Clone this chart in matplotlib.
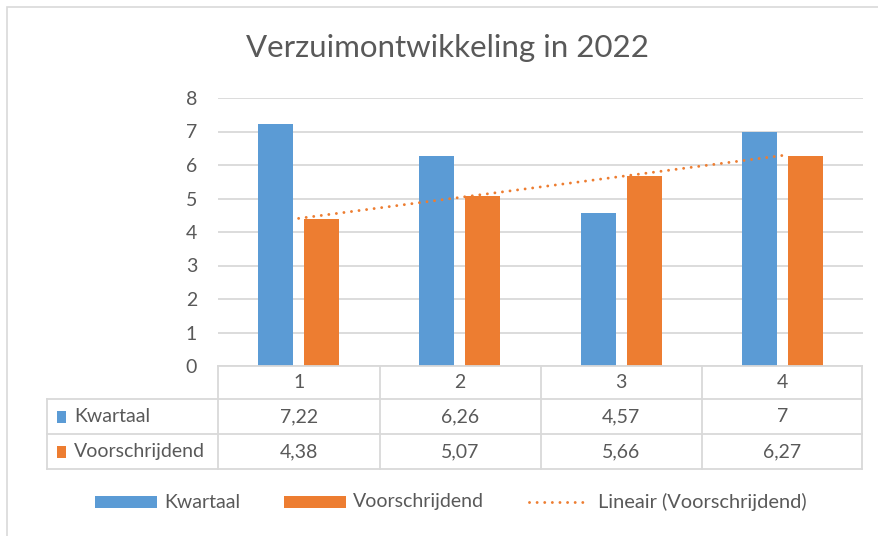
import matplotlib
matplotlib.use("Agg")
import matplotlib.pyplot as plt
import numpy as np
from matplotlib.transforms import blended_transform_factory
from matplotlib.patches import Rectangle
from matplotlib.lines import Line2D

plt.rcParams['font.family'] = ['Lato', 'DejaVu Sans']

title = "Verzuimontwikkeling in 2022"
categories = ["1", "2", "3", "4"]
kwartaal = [7.22, 6.26, 4.57, 7]
voorschrijdend = [4.38, 5.07, 5.66, 6.27]
kwartaal_labels = ["7,22", "6,26", "4,57", "7"]
voorschrijdend_labels = ["4,38", "5,07", "5,66", "6,27"]
series_names = ["Kwartaal", "Voorschrijdend"]
trend_name = "Lineair (Voorschrijdend)"
yticks = [0, 1, 2, 3, 4, 5, 6, 7, 8]

BLUE = "#5B9BD5"
ORANGE = "#ED7D31"
TXT = "#595959"
GRID = "#D9D9D9"

W, H = 879, 536
fig = plt.figure(figsize=(W / 100, H / 100), dpi=100)

def fx(px):
    return px / W

def fy(py):
    return 1 - py / H

DOT = (0, (0.01, 2.6))

# outer border
fig.patches.append(Rectangle((fx(7), fy(540)), fx(900), fy(7) - fy(540), transform=fig.transFigure,
                             fill=False, edgecolor=GRID, linewidth=1.2))

ax = fig.add_axes([fx(218), fy(366), fx(863) - fx(218), fy(98) - fy(366)])
x = np.arange(1, len(categories) + 1)
bw = 0.217
off = 0.143
ax.bar(x - off, kwartaal, width=bw, color=BLUE, zorder=3)
ax.bar(x + off, voorschrijdend, width=bw, color=ORANGE, zorder=3)

coef = np.polyfit(x, voorschrijdend, 1)
ax.plot(x, np.polyval(coef, x), linestyle=DOT, color=ORANGE, linewidth=2.1,
        dash_capstyle='round', zorder=4)

ax.set_xlim(0.5, len(categories) + 0.5)
ax.set_ylim(0, 8)
ax.set_yticks(yticks)
ax.set_yticklabels([str(t) for t in yticks])
ax.tick_params(axis='y', length=0, pad=15, labelsize=14, labelcolor=TXT)
ax.set_xticks([])
for s in ax.spines.values():
    s.set_visible(False)
ax.yaxis.grid(True, color=GRID, linewidth=1.3, zorder=0)
ax.set_axisbelow(True)

fig.text(fx(448), fy(48), title, ha='center', va='center', fontsize=22.5, color=TXT)

# data table
tr = blended_transform_factory(ax.transData, fig.transFigure)
tf = fig.transFigure
rows_y = [366, 399, 434, 469]
col_x = [218, 380, 541, 702, 862]
for i, yy in enumerate(rows_y):
    x0 = 218 if i == 0 else 47
    fig.add_artist(Line2D([fx(x0), fx(862)], [fy(yy), fy(yy)], transform=tf, color=GRID, linewidth=1.3))
for xx in col_x:
    fig.add_artist(Line2D([fx(xx), fx(xx)], [fy(366), fy(469)], transform=tf, color=GRID, linewidth=1.3))
fig.add_artist(Line2D([fx(47), fx(47)], [fy(399), fy(469)], transform=tf, color=GRID, linewidth=1.3))

fs = 14
for xi, c in zip(x, categories):
    fig.text(xi, fy(383), c, transform=tr, ha='center', va='center', fontsize=fs, color=TXT)
for xi, v in zip(x, kwartaal_labels):
    fig.text(xi, fy(417), v, transform=tr, ha='center', va='center', fontsize=fs, color=TXT)
for xi, v in zip(x, voorschrijdend_labels):
    fig.text(xi, fy(452), v, transform=tr, ha='center', va='center', fontsize=fs, color=TXT)

for yy, name, col in [(417, series_names[0], BLUE), (452, series_names[1], ORANGE)]:
    fig.patches.append(Rectangle((fx(57), fy(yy + 6)), fx(9), fy(yy - 6) - fy(yy + 6), transform=tf,
                                 facecolor=col, edgecolor='none'))
    fig.text(fx(74), fy(yy), name, ha='left', va='center', fontsize=fs, color=TXT)

# legend
ly = 502
fig.patches.append(Rectangle((fx(95), fy(ly + 6)), fx(62), fy(ly - 6) - fy(ly + 6), transform=tf,
                             facecolor=BLUE, edgecolor='none'))
fig.text(fx(164), fy(ly), series_names[0], ha='left', va='center', fontsize=fs, color=TXT)
fig.patches.append(Rectangle((fx(284), fy(ly + 6)), fx(62), fy(ly - 6) - fy(ly + 6), transform=tf,
                             facecolor=ORANGE, edgecolor='none'))
fig.text(fx(353), fy(ly), series_names[1], ha='left', va='center', fontsize=fs, color=TXT)
fig.add_artist(Line2D([fx(529), fx(588)], [fy(ly), fy(ly)], transform=tf, color=ORANGE,
                      linewidth=2.1, linestyle=DOT, dash_capstyle='round'))
fig.text(fx(598), fy(ly), trend_name, ha='left', va='center', fontsize=14.4, color=TXT)

fig.savefig("out.png", dpi=100)
